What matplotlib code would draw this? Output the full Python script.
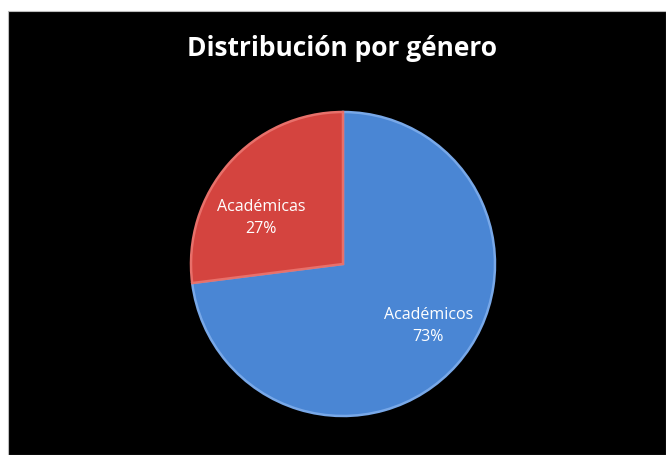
import numpy as np
import matplotlib.pyplot as plt
from matplotlib.patches import Rectangle

# datos
categorias = ['Académicos', 'Académicas']
valores = [73, 27]
colores = ['#4a86d4', '#d4443f']
bordes = ['#78a8e8', '#e8706a']
titulo = 'Distribución por género'

W, H = 666, 456
cx, cy, r = 343, H - 265, 152
# posicion de cada etiqueta (fraccion del radio, angulo en grados)
pos_etiquetas = [(0.69, -35.5), (0.62, 150)]

fig = plt.figure(figsize=(W / 100, H / 100), dpi=100)
fig.patch.set_facecolor('white')

ax = fig.add_axes([0, 0, 1, 1])

etiquetas = [f'{c}\n{v}%' for c, v in zip(categorias, valores)]
wedges, texts = ax.pie(valores, labels=etiquetas, colors=colores, startangle=90, counterclock=False,
                       center=(cx, cy), radius=r, frame=True,
                       wedgeprops=dict(linewidth=1.8, edgecolor='none'),
                       textprops=dict(color='white', fontsize=11.5, family='Open Sans'))
for w, b in zip(wedges, bordes):
    w.set_edgecolor(b)
    w.set_zorder(2)
for t, (d, a) in zip(texts, pos_etiquetas):
    t.set_position((cx + d * r * np.cos(np.radians(a)), cy + d * r * np.sin(np.radians(a))))
    t.set_ha('center')
    t.set_va('center')
    t.set_linespacing(1.45)
    t.set_zorder(3)

# fondo negro del grafico
ax.add_patch(Rectangle((8, 0), W - 8, H - 12, facecolor='black', edgecolor='#bbbbbb', lw=0.8, zorder=0))

ax.text(342, H - 48, titulo, color='white', fontsize=19, fontweight='bold', family='Open Sans',
        ha='center', va='center')

ax.set_xlim(0, W)
ax.set_ylim(0, H)
ax.set_aspect('equal')
ax.axis('off')

fig.savefig('out.png', dpi=100, facecolor=fig.get_facecolor())
